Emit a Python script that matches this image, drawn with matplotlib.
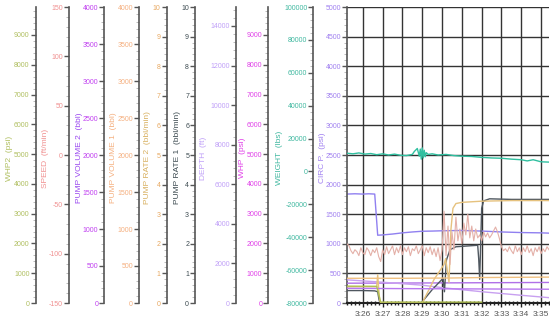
import numpy as np
import matplotlib
matplotlib.use("Agg")
import matplotlib.pyplot as plt
from matplotlib.ticker import MultipleLocator, FixedLocator

plt.rcParams['font.family'] = ['Liberation Sans', 'DejaVu Sans']
plt.rcParams['axes.unicode_minus'] = False

# time axis: minutes after 3:25
xticks = [1, 2, 3, 4, 5, 6, 7, 8, 9, 10]
xlabels = ['3:26', '3:27', '3:28', '3:29', '3:30', '3:31', '3:32', '3:33', '3:34', '3:35']

# CIRC P (psi)
circ_t = [0.2, 0.6, 1.0, 1.3, 1.6, 1.75, 2.0, 2.5, 3.0, 3.5, 4.0, 4.5, 5.0, 6.0, 7.0, 8.0, 9.0, 10.0, 10.4]
circ_p = [1840, 1845, 1840, 1845, 1840, 1145, 1150, 1165, 1185, 1200, 1212, 1215, 1220, 1225, 1215, 1200, 1190, 1185, 1180]

# WEIGHT (lbs)
weight_t = [0.2, 0.5, 0.8, 1.1, 1.4, 1.7, 2.0, 2.3, 2.6, 2.9, 3.2, 3.5, 3.6, 3.75, 3.85, 3.9, 3.95,
            4.0, 4.05, 4.1, 4.15, 4.2, 4.3, 4.5, 4.8, 5.2, 5.6, 6.0, 6.5, 7.0, 7.5, 8.0, 8.5, 9.0,
            9.3, 9.6, 10.0, 10.4]
weight = [11080, 10720, 11260, 10540, 10900, 10180, 10720, 10000, 10540, 9820, 9640, 10360, 12160,
          13960, 9280, 13600, 7480, 14320, 8200, 12880, 8920, 11440, 10360, 10720, 10000, 10360,
          9640, 9280, 9100, 8560, 8200, 8020, 7480, 7120, 6400, 7120, 5860, 5680]

# SPEED (ft/min), sampled every 0.1 min from 0.2
speed = [-90, -92, -97, -100, -96, -98, -102, -94, -99, -101,
         -94, -97, -102, -96, -99, -94, -103, -108, -96, -101,
         -93, -100, -96, -92, -101, -94, -99, -92, -101, -94,
         -98, -93, -102, -95, -97, -92, -100, -96, -92, -102,
         -94, -99, -93, -101, -95, -103, -94, -107, -96, -57,
         -102, -72, -111, -78, -96, -63, -87, -75, -90, -69,
         -81, -60, -84, -72, -87, -75, -84, -81, -87, -78,
         -83, -79, -84, -81, -77, -73, -78, -85, -93, -97,
         -95, -98, -93, -97, -100, -92, -98, -94, -101, -94,
         -98, -92, -99, -95, -102, -94, -98, -93, -100, -95,
         -98, -93, -96]
speed_t = np.linspace(0.2, 10.4, len(speed))

# PUMP RATE 1 (bbl/min)
rate1_t = [0.2, 1.0, 1.6, 1.75, 1.82, 1.9, 3.95, 4.5, 5.0, 5.05, 5.12, 5.22, 5.4, 5.7, 6.8, 6.85,
           6.9, 7.0, 7.1, 7.4, 8.5, 10.4]
rate1 = [0.42, 0.42, 0.41, 0.38, 0.1, 0, 0, 0.45, 0.8, 0.83, 0.38, 1.45, 1.8, 1.9, 1.95, 1.5,
         0.8, 3.2, 3.45, 3.52, 3.5, 3.5]

# PUMP RATE 2 (bbl/min)
rate2_t = [0.2, 1.7, 1.75, 1.8, 1.85, 1.9, 4.0, 4.3, 4.6, 4.9, 5.1, 5.18, 5.35, 5.45, 5.55, 5.7,
           6.0, 7.0, 8.5, 10.4]
rate2 = [0.55, 0.55, 0.95, 0.5, 0.1, 0, 0, 0.4, 0.8, 1.1, 1.3, 1.5, 0.7, 2.5, 3.2, 3.36,
         3.4, 3.44, 3.46, 3.46]

# PUMP VOLUME 1 / 2 (bbl)
vol1_t = [0.2, 3.0, 5.5, 7.0, 10.4]
vol1 = [334, 334, 338, 344, 350]
vol2_t = [0.2, 5.0, 10.4]
vol2 = [198, 192, 186]

# WHP (psi), WHP2 (psi)
whp_t = [0.2, 5.0, 10.4]
whp = [665, 675, 690]
whp2_t = [0.2, 1.7, 1.8, 1.9, 7.0]
whp2 = [566, 560, 300, 30, 30]

# DEPTH (ft)
depth_t = [0.2, 2.0, 4.0, 5.1, 7.0, 9.0, 10.4]
depth = [1170, 1050, 900, 765, 570, 390, 270]

fig = plt.figure(figsize=(5.5, 3.22), dpi=100)
ax = fig.add_axes([347 / 550, 19 / 322, 202 / 550, 296 / 322])

spine_col = '#555555'


def style_y(a, color, label, ylim, major, minor, label_x, ticks=None):
    a.set_ylim(*ylim)
    if ticks is not None:
        a.yaxis.set_major_locator(FixedLocator(ticks))
    else:
        a.yaxis.set_major_locator(MultipleLocator(major))
    a.yaxis.set_minor_locator(MultipleLocator(minor))
    a.tick_params(axis='y', which='major', direction='out', length=3.5, width=1,
                  color=spine_col, labelsize=5.0, labelcolor=color, pad=0.8)
    a.tick_params(axis='y', which='minor', direction='out', length=2, width=0.6,
                  color='#b0b0b0')
    a.set_ylabel(label, color=color, fontsize=6.0)
    a.yaxis.set_label_coords(label_x, 0.49)


def side_axis(offset, color, label, ylim, major, minor, label_x, ticks=None):
    a = ax.twinx()
    a.patch.set_visible(False)
    for s in ['top', 'right', 'bottom']:
        a.spines[s].set_visible(False)
    a.spines['left'].set_visible(True)
    a.spines['left'].set_position(('axes', offset))
    a.spines['left'].set_color(spine_col)
    a.spines['left'].set_linewidth(1.2)
    a.yaxis.set_ticks_position('left')
    a.yaxis.set_label_position('left')
    style_y(a, color, label, ylim, major, minor, label_x, ticks)
    return a


psi_ticks = [0, 1000, 2000, 3000, 4000, 5000, 6000, 7000, 8000, 9000]

# main axis: CIRC P
ax.set_xlim(0.2, 10.4)
ax.set_xticks(xticks)
ax.set_xticklabels(xlabels)
ax.xaxis.set_minor_locator(MultipleLocator(0.2))
ax.tick_params(axis='x', which='major', length=3, width=1, color='#222222',
               labelsize=6.0, labelcolor='#555555', pad=3)
ax.tick_params(axis='x', which='minor', direction='inout', length=3, width=1, color='#222222')
style_y(ax, '#a080f0', 'CIRC P.  (psi)', (0, 5000), 500, 100, -0.106)
ax.grid(True, which='major', color='#333333', linewidth=1.0)
ax.set_axisbelow(True)
for s in ['top', 'right']:
    ax.spines[s].set_visible(False)
ax.spines['left'].set_color(spine_col)
ax.spines['left'].set_linewidth(1.2)
ax.spines['bottom'].set_color('#222222')
ax.spines['bottom'].set_linewidth(1.5)

ax_weight = side_axis(-0.167, '#40b8a0', 'WEIGHT  (lbs)', (-80000, 100000), 20000, 4000, -0.319)
ax_whp = side_axis(-0.390, '#e040e8', 'WHP  (psi)', (0, 9940), 1000, 200, -0.498, ticks=psi_ticks)
ax_depth = side_axis(-0.550, '#c0a0f8', 'DEPTH  (ft)', (0, 14960), 2000, 400, -0.691,
                     ticks=[0, 2000, 4000, 6000, 8000, 10000, 12000, 14000])
ax_rate1 = side_axis(-0.752, '#3c4a50', 'PUMP RATE 1  (bbl/min)', (0, 10), 1, 0.2, -0.824)
ax_rate2 = side_axis(-0.893, '#e8a860', 'PUMP RATE 2  (bbl/min)', (0, 10), 1, 0.2, -0.968)
ax_vol1 = side_axis(-1.030, '#f5b080', 'PUMP VOLUME 1  (bbl)', (0, 4000), 500, 100, -1.141)
ax_vol2 = side_axis(-1.202, '#c040f0', 'PUMP VOLUME 2  (bbl)', (0, 4000), 500, 100, -1.309)
ax_speed = side_axis(-1.376, '#f09090', 'SPEED  (ft/min)', (-150, 150), 50, 10, -1.473)
ax_whp2 = side_axis(-1.542, '#b0bf60', 'WHP2  (psi)', (0, 9940), 1000, 200, -1.651, ticks=psi_ticks)

ax_rate2.yaxis.label.set_color('#d8b060')
ax_vol2.yaxis.label.set_color('#9a48f0')

lw = 1.0
ax_whp2.plot(whp2_t, whp2, color='#b0c050', lw=lw)
ax_depth.plot(depth_t, depth, color='#c8a0f0', lw=lw)
ax_vol2.plot(vol2_t, vol2, color='#b878f0', lw=lw)
ax_whp.plot(whp_t, whp, color='#b070e8', lw=lw)
ax_vol1.plot(vol1_t, vol1, color='#f0c080', lw=lw)
ax_speed.plot(speed_t, speed, color='#e4b0a8', lw=0.8)
ax_rate2.plot(rate2_t, rate2, color='#e6c27e', lw=lw)
ax_rate1.plot(rate1_t, rate1, color='#505860', lw=lw)
ax_weight.plot(weight_t, weight, color='#30c0a0', lw=lw)
ax.plot(circ_t, circ_p, color='#9080f0', lw=lw)

fig.savefig('out.png', dpi=100)
